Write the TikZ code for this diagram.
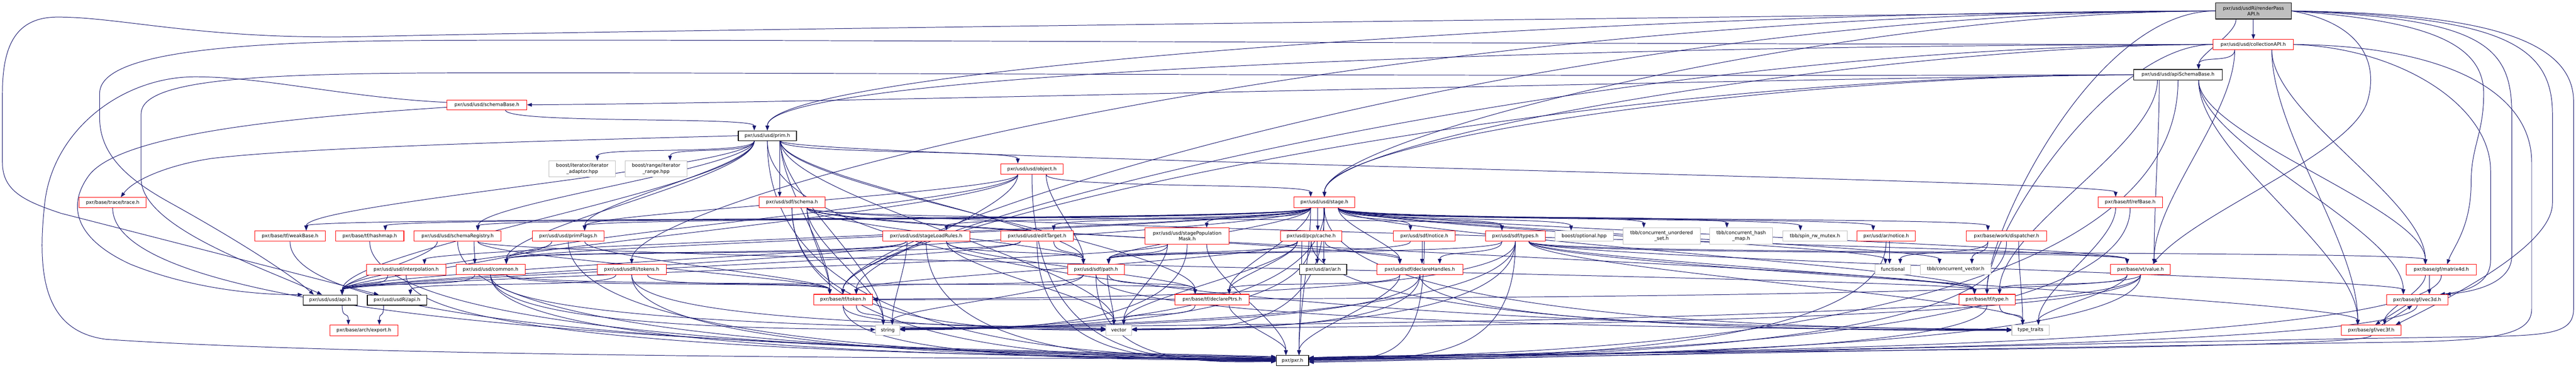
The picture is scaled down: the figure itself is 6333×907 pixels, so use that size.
\documentclass[tikz,border=0pt]{standalone}
\usepackage{fontspec}
\setmainfont{DejaVu Sans}
\usetikzlibrary{arrows.meta,calc}
\definecolor{edgec}{HTML}{191970}
\definecolor{redc}{HTML}{FF0000}
\definecolor{grayc}{HTML}{BFBFBF}
\pgfdeclarelayer{bgl}
\pgfdeclarelayer{edgel}
\pgfsetlayers{bgl,edgel,main}
\tikzset{
  box/.style={rectangle, fill=white, inner sep=0pt, align=center,
    font=\fontsize{11.8}{14.5}\selectfont, text=black, line width=1.3pt},
  redbox/.style={box, draw=redc},
  blkbox/.style={box, draw=black, line width=1.6pt},
  grybox/.style={box, draw=grayc},
  rootbox/.style={box, draw=black, fill=grayc, line width=1.6pt},
  edg/.style={draw=edgec, line width=1.25pt, -{Triangle[length=12pt,width=9pt]}},
}
\newcommand\nd[7]{\node[#2, minimum width=#5pt, minimum height=#6pt] (#1) at (#3,-#4) {#7};}
% edge entering the top of the target
\newcommand\eN[2]{\draw[edg]
  let \p1=(#1.south west), \p2=(#1.south east), \p3=(#2.north west), \p4=(#2.north east) in
  let \n1={0.5*(\x1+\x2)}, \n2={0.5*(\x3+\x4)} in
  let \n3={0.5*(\n1+min(max(\n2,\x1+8pt),\x2-8pt))}, \n4={0.5*(\n2+min(max(\n1,\x3+8pt),\x4-8pt))},
      \n9={max(35pt,0.3*(\y1-\y3))} in
  let \n5={\y1}, \n6={\y1-\n9}, \n7={\y3+\n9}, \n8={\y3} in
  (\n3,\n5) .. controls (\n3,\n6) and (\n4,\n7) .. (\n4,\n8);}
% edge leaving the west side of a top node and entering the top of the target
\newcommand\eW[3][1000]{\draw[edg] (#2.west) .. controls ($(#2.west)+(-#1,0)$) and ($(#3.north)+(0,150)$) .. (#3.north);}
% edge entering the west / east side of the target
\newcommand\eSL[4]{\draw[edg] (#1.south) .. controls ($(#1.south |- #2.west)+(0,#3)$) and ($(#2.west)+(-#4,#3)$) .. ($(#2.west)+(0,{#3/3})$);}
\newcommand\eSR[4]{\draw[edg] (#1.south) .. controls ($(#1.south |- #2.east)+(0,#3)$) and ($(#2.east)+(#4,#3)$) .. ($(#2.east)+(0,{#3/3})$);}
\begin{document}
\begin{tikzpicture}[x=1pt,y=1pt]
\useasboundingbox (0,0) rectangle (6333,-907);
\begin{pgfonlayer}{bgl}
\fill[white] (0,0) rectangle (6333,-907);
\end{pgfonlayer}
% ---------------- nodes ----------------
\nd{R}{rootbox}{5540}{27}{186}{40}{pxr/usd/usdRi/renderPass\\API.h}
\nd{CA}{redbox}{5539.5}{109.5}{197}{25}{pxr/usd/usd/collectionAPI.h}
\nd{ASB}{blkbox}{5354.5}{184}{217}{26}{pxr/usd/usd/apiSchemaBase.h}
\nd{SB}{redbox}{1197}{258}{196}{24}{pxr/usd/usd/schemaBase.h}
\nd{P}{blkbox}{1886.5}{334}{143}{24}{pxr/usd/usd/prim.h}
\nd{O}{redbox}{2537}{416}{154}{26}{pxr/usd/usd/object.h}
\nd{IA}{grybox}{1431.5}{415.5}{163}{39}{boost/iterator/iterator\\\_adaptor.hpp}
\nd{IR}{grybox}{1613}{415.5}{152}{39}{boost/range/iterator\\\_range.hpp}
\nd{TR}{redbox}{277}{498.5}{164}{25}{pxr/base/trace/trace.h}
\nd{SS}{redbox}{1947}{498}{162}{26}{pxr/usd/sdf/schema.h}
\nd{S}{redbox}{3256}{498}{150}{26}{pxr/usd/usd/stage.h}
\nd{RB}{redbox}{5237}{498}{158}{26}{pxr/base/tf/refBase.h}
\nd{WB}{redbox}{713}{581}{174}{26}{pxr/base/tf/weakBase.h}
\nd{HM}{redbox}{909}{581}{168}{26}{pxr/base/tf/hashmap.h}
\nd{SR}{redbox}{1125}{581}{214}{26}{pxr/usd/usd/schemaRegistry.h}
\nd{PF}{redbox}{1397}{581}{176}{26}{pxr/usd/usd/primFlags.h}
\nd{SLR}{redbox}{2277}{581}{214}{26}{pxr/usd/usd/stageLoadRules.h}
\nd{ET}{redbox}{2549.5}{581}{179}{26}{pxr/usd/usd/editTarget.h}
\nd{SPM}{redbox}{2918.5}{581}{207}{40}{pxr/usd/usd/stagePopulation\\Mask.h}
\nd{PC}{redbox}{3223.5}{581}{151}{26}{pxr/usd/pcp/cache.h}
\nd{SN}{redbox}{3501.5}{581}{151}{26}{pxr/usd/sdf/notice.h}
\nd{ST}{redbox}{3725.5}{581}{147}{26}{pxr/usd/sdf/types.h}
\nd{BO}{grybox}{3894.5}{581}{143}{26}{boost/optional.hpp}
\nd{CUS}{grybox}{4085}{581}{190}{40}{tbb/concurrent\_unordered\\\_set.h}
\nd{CHM}{grybox}{4280.5}{581}{155}{40}{tbb/concurrent\_hash\\\_map.h}
\nd{SRW}{grybox}{4462}{581}{158}{26}{tbb/spin\_rw\_mutex.h}
\nd{AN}{redbox}{4637}{581}{142}{26}{pxr/usd/ar/notice.h}
\nd{WD}{redbox}{4933}{581}{198}{26}{pxr/base/work/dispatcher.h}
\nd{IN}{redbox}{998.5}{664}{195}{26}{pxr/usd/usd/interpolation.h}
\nd{C}{redbox}{1206}{663}{170}{26}{pxr/usd/usd/common.h}
\nd{RT}{redbox}{1553}{663}{170}{26}{pxr/usd/usdRi/tokens.h}
\nd{SP}{redbox}{2694.5}{663}{139}{26}{pxr/usd/sdf/path.h}
\nd{AR}{blkbox}{3253}{663}{116}{26}{pxr/usd/ar/ar.h}
\nd{DH}{redbox}{3490.5}{663}{211}{26}{pxr/usd/sdf/declareHandles.h}
\nd{FN}{grybox}{4653.5}{663}{87}{26}{functional}
\nd{CV}{grybox}{4808}{663}{174}{26}{tbb/concurrent\_vector.h}
\nd{V}{redbox}{5262.5}{663}{147}{26}{pxr/base/vt/value.h}
\nd{M4}{redbox}{6002}{664}{172}{26}{pxr/base/gf/matrix4d.h}
\nd{U}{blkbox}{811.5}{738.5}{133}{25}{pxr/usd/usd/api.h}
\nd{RA}{blkbox}{976}{738.5}{146}{25}{pxr/usd/usdRi/api.h}
\nd{TK}{redbox}{2072.5}{737.5}{145}{26}{pxr/base/tf/token.h}
\nd{DP}{redbox}{2980}{737.5}{182}{26}{pxr/base/tf/declarePtrs.h}
\nd{TY}{redbox}{4885}{737.5}{138}{26}{pxr/base/tf/type.h}
\nd{V3d}{redbox}{5942.5}{738}{151}{26}{pxr/base/gf/vec3d.h}
\nd{EX}{redbox}{894.5}{813}{167}{26}{pxr/base/arch/export.h}
\nd{STR}{grybox}{2182.5}{812.5}{59}{25}{string}
\nd{VEC}{grybox}{2750.5}{812.5}{63}{25}{vector}
\nd{TT}{grybox}{4992}{812.5}{92}{25}{type\_traits}
\nd{V3f}{redbox}{5829.5}{812.5}{147}{25}{pxr/base/gf/vec3f.h}
\nd{PXR}{blkbox}{3177.5}{887.5}{79}{25}{pxr/pxr.h}
% ---------------- edges ----------------
\begin{pgfonlayer}{edgel}
% root
\eN{R}{CA}
\eN{R}{ASB}
\eW[1500]{R}{P}
\eW[900]{R}{S}
\eW[2200]{R}{RT}
\eW[1700]{R}{TK}
\eW[300]{R}{TY}
\draw[edg] (R.west) .. controls (4000,-45) and (1500,-75) .. (900,-90) .. controls (500,-99) and (300,-42) .. (142,-42) .. controls (40,-42) and (6,-110) .. (6,-230) -- (6,-400) .. controls (6,-470) and (60,-495) .. (150,-525) -- ([xshift=-45]RA.north);
\draw[edg] (R.east) .. controls (5800,-55) and (5850,-150) .. (5820,-250) .. controls (5780,-380) and (5400,-520) .. ([xshift=30]V.north);
\draw[edg] (R.east) .. controls (5950,-50) and (6106,-100) .. (6106,-230) .. controls (6106,-330) and (6075,-360) .. (6075,-450) .. controls (6075,-560) and (6030,-610) .. ([xshift=14]M4.north);
\draw[edg] (R.east) .. controls (6100,-45) and (6175,-110) .. (6175,-280) -- (6175,-630) .. controls (6175,-690) and (6100,-716) .. ([xshift=-6]V3d.north east);
\draw[edg] (R.east) .. controls (6150,-40) and (6275,-110) .. (6275,-280) -- (6275,-500) .. controls (6275,-600) and (6050,-720) .. ([xshift=60]V3f.north);
\draw[edg] (R.east) .. controls (6050,-32) and (6327,-80) .. (6327,-250) -- (6327,-760) .. controls (6327,-830) and (6250,-826) .. (6000,-830) .. controls (5000,-845) and (3700,-884) .. ([yshift=-4]PXR.east);
% collectionAPI
\eN{CA}{ASB}
\eW[1400]{CA}{P}
\eW[800]{CA}{S}
\eW[1600]{CA}{TK}
\eW[250]{CA}{TY}
\draw[edg] (CA.west) .. controls (3500,-108) and (1600,-95) .. (1000,-100) .. controls (500,-104) and (245,-140) .. (245,-230) -- (245,-290) .. controls (245,-390) and (330,-450) .. (420,-500) .. controls (600,-600) and (720,-680) .. ([xshift=-40]U.north);
\eN{CA}{V}
\eN{CA}{M4}
\eN{CA}{V3f}
\draw[edg] (CA.east) .. controls (5900,-118) and (6123,-260) .. (6123,-420) -- (6123,-640) .. controls (6123,-700) and (6060,-718) .. ([xshift=-20]V3d.north east);
\draw[edg] (CA.east) .. controls (6000,-112) and (6224,-220) .. (6224,-400) -- (6224,-760) .. controls (6224,-820) and (6150,-838) .. (5900,-842) .. controls (5000,-855) and (3700,-880) .. ([yshift=-2]PXR.east);
% apiSchemaBase
\draw[edg] (ASB.west) .. controls (4000,-200) and (2000,-254) .. (SB.east);
\draw[edg] (ASB.west) .. controls (3500,-190) and (1600,-176) .. (1000,-180) .. controls (600,-184) and (347,-200) .. (347,-280) -- (347,-440) .. controls (347,-560) and (650,-660) .. ([xshift=-20]U.north);
\eW[800]{ASB}{S}
\eW[1500]{ASB}{TK}
\eN{ASB}{TY}
\eN{ASB}{V}
\eN{ASB}{M4}
\eN{ASB}{V3d}
\eN{ASB}{V3f}
\eSR{ASB}{PXR}{16}{400}
% schemaBase
\eN{SB}{P}
\draw[edg] ([yshift=6]SB.west) .. controls (850,-240) and (650,-189) .. (480,-189) .. controls (300,-189) and (130,-320) .. (110,-500) .. controls (90,-680) and (110,-815) .. (260,-835) .. controls (900,-880) and (2600,-884) .. ([yshift=6]PXR.west);
\draw[edg] ([yshift=-6]SB.west) .. controls (700,-290) and (300,-330) .. (220,-430) .. controls (160,-510) and (190,-590) .. (320,-650) .. controls (480,-715) and (650,-726) .. (U.north west);
% prim
\eN{P}{O}
\eN{P}{IA}
\eN{P}{IR}
\eN{P}{SS}
\eN{P}{PF}
\eN{P}{SR}
\eN{P}{C}
\eN{P}{WB}
\eN{P}{RB}
\eN{P}{U}
\eN{P}{TK}
\eN{P}{DP}
\eN{P}{SP}
\eN{P}{STR}
\eN{P}{VEC}
\eSL{P}{TT}{6}{300}
\eSL{P}{PXR}{14}{400}
\draw[edg] (P.west) .. controls (1400,-345) and (750,-362) .. (520,-390) .. controls (420,-405) and (330,-440) .. ([xshift=20]TR.north);
% object
\eN{O}{S}
\eN{O}{U}
\eN{O}{C}
\eN{O}{PF}
\eN{O}{SP}
\eN{O}{TK}
\eSL{O}{PXR}{-4}{300}
% stage
\eN{S}{U}
\eN{S}{C}
\eN{S}{ET}
\eN{S}{IN}
\eN{S}{SR}
\eN{S}{SLR}
\eN{S}{SPM}
\eN{S}{PF}
\eN{S}{AR}
\eN{S}{AN}
\eN{S}{PC}
\eN{S}{DH}
\eN{S}{SN}
\eN{S}{SP}
\eN{S}{ST}
\eN{S}{DP}
\eN{S}{HM}
\eN{S}{TY}
\eN{S}{WB}
\eN{S}{V}
\eN{S}{WD}
\eN{S}{BO}
\eN{S}{CV}
\eN{S}{CUS}
\eN{S}{CHM}
\eN{S}{SRW}
\eN{S}{FN}
\eSR{S}{STR}{6}{250}
\eSR{S}{VEC}{2}{250}
\eSL{S}{TT}{4}{300}
\eN{S}{PXR}
% sdf/schema
\eN{SS}{ST}
\eN{SS}{SP}
\eN{SS}{DH}
\eN{SS}{TK}
\eN{SS}{TY}
\eN{SS}{V}
\eN{SS}{STR}
\eSL{SS}{VEC}{0}{250}
\eSL{SS}{PXR}{4}{400}
% misc rank 6/7
\eN{RB}{TT}
\eSR{RB}{PXR}{14}{400}
\eSL{WB}{PXR}{24}{500}
\eSL{HM}{PXR}{20}{500}
\eSL{TR}{PXR}{28}{500}
\eN{SR}{C}
\eN{SR}{U}
\eN{SR}{TK}
\eN{SR}{TY}
\eSL{SR}{PXR}{16}{500}
\eN{PF}{U}
\eN{PF}{TK}
\eSL{PF}{PXR}{8}{400}
\eN{SLR}{U}
\eN{SLR}{C}
\eN{SLR}{SP}
\eN{SLR}{VEC}
\eN{SLR}{STR}
\eN{SLR}{DP}
\eSL{SLR}{PXR}{0}{300}
\eN{ET}{U}
\eN{ET}{C}
\eN{ET}{SP}
\eSL{ET}{PXR}{-2}{300}
\eN{SPM}{U}
\eN{SPM}{SP}
\eN{SPM}{VEC}
\eSR{SPM}{STR}{2}{250}
\eN{SPM}{PXR}
\eN{PC}{AR}
\eN{PC}{DH}
\eN{PC}{SP}
\eN{PC}{DP}
\eN{PC}{TK}
\eSR{PC}{STR}{4}{250}
\eN{PC}{VEC}
\eSL{PC}{TT}{-2}{300}
\eN{PC}{PXR}
\eN{SN}{DH}
\eN{SN}{SP}
\eSR{SN}{PXR}{2}{200}
\eN{ST}{DH}
\eN{ST}{SP}
\eSR{ST}{TK}{4}{400}
\eN{ST}{TY}
\eN{ST}{V}
\eN{ST}{M4}
\eN{ST}{V3d}
\eN{ST}{V3f}
\eSR{ST}{STR}{10}{250}
\eSR{ST}{VEC}{6}{250}
\eN{ST}{TT}
\eSR{ST}{PXR}{4}{300}
\eN{AN}{FN}
\eSR{AN}{PXR}{6}{400}
\eN{WD}{FN}
\eN{WD}{CV}
\eN{WD}{TT}
\eSR{WD}{PXR}{8}{400}
% rank 8
\eN{IN}{U}
\eSL{IN}{PXR}{12}{500}
\eN{C}{U}
\eN{C}{DP}
\eN{C}{TK}
\eSL{C}{STR}{4}{200}
\eSL{C}{VEC}{4}{250}
\eSL{C}{PXR}{10}{500}
\eN{RT}{RA}
\eN{RT}{TK}
\eSL{RT}{VEC}{12}{250}
\eSL{RT}{PXR}{6}{400}
\eN{SP}{TK}
\eN{SP}{STR}
\eN{SP}{VEC}
\eN{SP}{DP}
\eSL{SP}{TT}{2}{300}
\eSL{SP}{PXR}{-6}{200}
\eN{DH}{DP}
\eSR{DH}{STR}{8}{250}
\eSR{DH}{VEC}{4}{250}
\eSL{DH}{TT}{0}{300}
\eN{DH}{PXR}
\eN{V}{TY}
\eN{V}{TT}
\eSR{V}{TK}{0}{400}
\eSR{V}{STR}{12}{250}
\eSR{V}{VEC}{8}{250}
\eSR{V}{PXR}{12}{400}
\eN{M4}{V3d}
\eN{M4}{V3f}
\eSR{M4}{PXR}{18}{400}
% rank 9/10
\eN{U}{EX}
\eN{RA}{EX}
\eN{TK}{STR}
\eSL{TK}{VEC}{8}{250}
\eSL{TK}{PXR}{2}{400}
\eN{DP}{VEC}
\eN{DP}{PXR}
\eN{TY}{TT}
\eSR{TY}{PXR}{10}{400}
\draw[edg] ([xshift=-28]V3d.south) -- ([xshift=10]V3f.north);
\draw[edg] ([xshift=26]V3f.north) -- ([xshift=-12]V3d.south);
\eSR{V3d}{PXR}{20}{400}
\eSR{V3f}{PXR}{22}{400}
\end{pgfonlayer}
\end{tikzpicture}
\end{document}
